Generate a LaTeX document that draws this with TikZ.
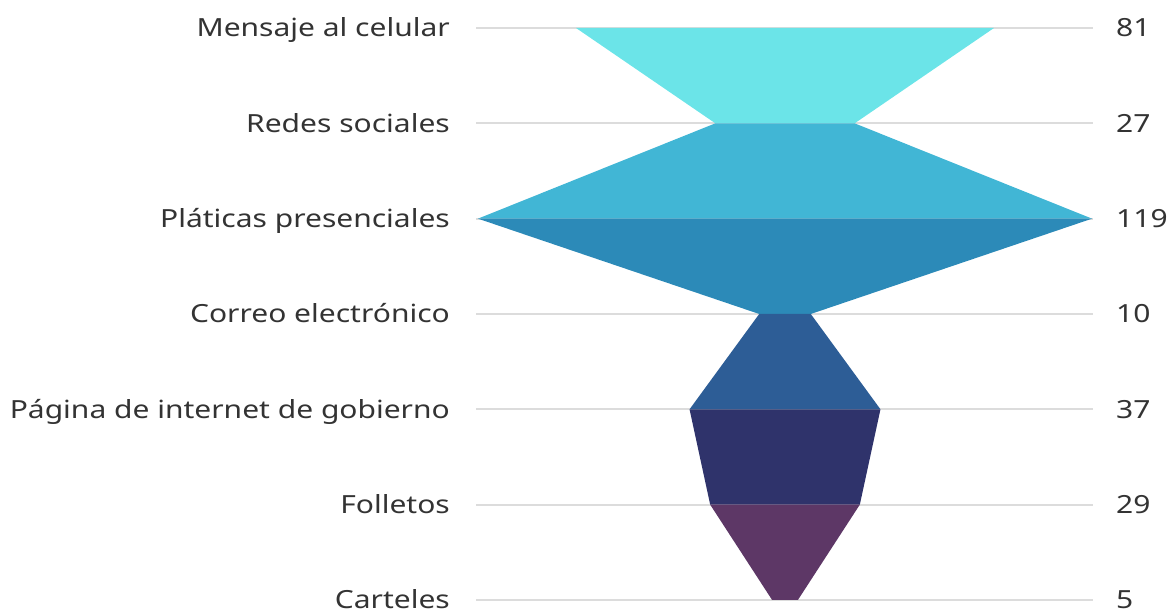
\documentclass[tikz,border=0pt]{standalone}
\usepackage{fontspec}
\setmainfont[FakeStretch=1.2]{Noto Sans}
\usepackage{tikz}
\usetikzlibrary{positioning,calc}
\definecolor{seg1}{HTML}{6BE4E8}
\definecolor{seg2}{HTML}{41B6D5}
\definecolor{seg3}{HTML}{2C8AB8}
\definecolor{seg4}{HTML}{2D5D96}
\definecolor{seg5}{HTML}{2F336B}
\definecolor{seg6}{HTML}{5D3766}
\definecolor{gridgray}{HTML}{DCDCDC}
\definecolor{txtgray}{HTML}{333333}
\begin{document}
\begin{tikzpicture}[
    x=1pt, y=-1pt,
    catname/.style={anchor=base east, inner sep=0pt, font=\fontsize{25}{28}\selectfont, text=txtgray},
    valname/.style={anchor=base west, inner sep=0pt, font=\fontsize{25}{28}\selectfont, text=txtgray},
    gridline/.style={draw=gridgray, line width=2pt}
]
\useasboundingbox (0,0) rectangle (1171,612);

% Rows: category, value
\foreach \txt/\v [count=\i] in {Mensaje al celular/81, Redes sociales/27, Pláticas presenciales/119,
    Correo electrónico/10, Página de internet de gobierno/37, Folletos/29, Carteles/5} {
  \pgfmathsetmacro{\ry}{28+95.33*(\i-1)}
  \node[catname] (cat\i) at (450,\ry+9) {\txt};
  \node[valname] (val\i) at (1116,\ry+9) {\v};
  \coordinate (gl\i) at (476,\ry);
  \coordinate (gr\i) at (1093,\ry);
  \draw[gridline] (gl\i) -- (gr\i);
  % funnel edges, half width 2.58 per unit
  \coordinate (fl\i) at ({785-2.58*\v},\ry);
  \coordinate (fr\i) at ({785+2.58*\v},\ry);
}

% Funnel segments
\foreach \i [evaluate=\i as \j using int(\i+1)] in {1,...,6} {
  \fill[seg\i] (fl\i) -- (fr\i) -- (fr\j) -- (fl\j) -- cycle;
}

\end{tikzpicture}
\end{document}
